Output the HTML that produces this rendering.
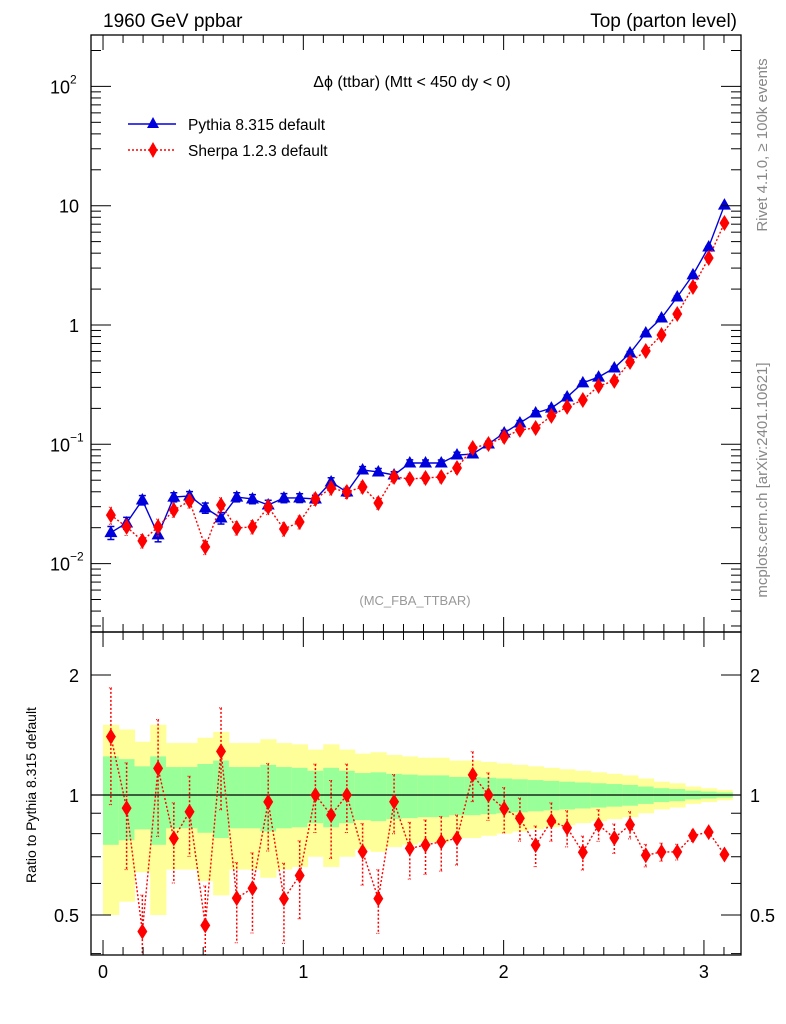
<!DOCTYPE html>
<html><head><meta charset="utf-8">
<style>
html,body{margin:0;padding:0;background:#fff;}
svg{display:block;font-family:"Liberation Sans","DejaVu Sans",sans-serif;}
</style></head>
<body>
<svg id="chart" width="786" height="1024" viewBox="0 0 786 1024" xmlns="http://www.w3.org/2000/svg">
<text x="103" y="27" font-size="19">1960 GeV ppbar</text>
<text x="737" y="27" font-size="19" text-anchor="end">Top (parton level)</text>
<text x="412" y="87" font-size="16" text-anchor="middle">Δϕ (ttbar) (Mtt &lt; 450 dy &lt; 0)</text>
<text x="415" y="605" font-size="13" fill="#999" text-anchor="middle">(MC_FBA_TTBAR)</text>
<text transform="translate(767,145) rotate(-90)" font-size="15" fill="#888" text-anchor="middle">Rivet 4.1.0, ≥ 100k events</text>
<text transform="translate(767,480) rotate(-90)" font-size="15" fill="#888" text-anchor="middle">mcplots.cern.ch [arXiv:2401.10621]</text>
<text transform="translate(36,795) rotate(-90)" font-size="14" text-anchor="middle">Ratio to Pythia 8.315 default</text>
<g id="legend">
 <g>
  <line x1="128" y1="124" x2="176" y2="124" stroke="#0000dd" stroke-width="1.5"/>
  <polygon points="153,117 159,128 147,128" fill="#0000dd"/>
  <text x="188" y="130" font-size="15.5">Pythia 8.315 default</text>
 </g>
 <g>
  <line x1="128" y1="150" x2="176" y2="150" stroke="#ff0000" stroke-width="1.5" stroke-dasharray="2,2"/>
  <polygon points="153,142 157.5,150 153,158 148.5,150" fill="#ff0000"/>
  <text x="188" y="156" font-size="15.5">Sherpa 1.2.3 default</text>
 </g>
</g>
<g id="plots"></g>
</svg>
<script>
const pythiaVals=[0.0182,0.0219,0.0341,0.0174,0.0361,0.0369,0.0293,0.0241,0.0361,0.0348,0.0310,0.0355,0.0355,0.0348,0.0483,0.0398,0.0609,0.0586,0.0553,0.0697,0.0697,0.0697,0.0813,0.0829,0.1007,0.1245,0.151,0.183,0.201,0.249,0.327,0.366,0.436,0.582,0.857,1.145,1.717,2.63,4.51,10.1];
const sherpaVals=[0.0255,0.0203,0.0155,0.0203,0.0281,0.0335,0.0138,0.0310,0.0199,0.0203,0.0298,0.0195,0.0223,0.0348,0.0430,0.0398,0.0439,0.0322,0.0532,0.0512,0.0522,0.0532,0.0633,0.0931,0.1007,0.115,0.132,0.137,0.173,0.206,0.235,0.308,0.340,0.490,0.605,0.824,1.236,2.08,3.64,7.16];
const relErr=[0.25,0.23,0.18,0.25,0.175,0.175,0.196,0.22,0.175,0.175,0.19,0.175,0.17,0.15,0.17,0.15,0.135,0.14,0.13,0.125,0.12,0.12,0.11,0.11,0.105,0.10,0.095,0.09,0.085,0.08,0.075,0.07,0.065,0.06,0.05,0.04,0.035,0.025,0.02,0.015];
const mainTicks=[{v:0.01,l:"10",e:"−2"},{v:0.1,l:"10",e:"−1"},{v:1,l:"1",e:""},{v:10,l:"10",e:""},{v:100,l:"10",e:"2"}];
const ratioTicks=[0.5,1,2];
const xTicks=[0,1,2,3];

const NS="http://www.w3.org/2000/svg";
const g=document.getElementById('plots');
const L=91,R=741,T=35,MB=632,RB=955;
const X0=-0.06,X1=3.185;
const xs=v=>L+(v-X0)/(X1-X0)*(R-L);
const ys=v=>325-Math.log10(v)*119.3;
const yr=v=>795-Math.log10(v)*398.6;
const nb=pythiaVals.length, bw=Math.PI/nb;
function el(tag,attrs,parent){const e=document.createElementNS(NS,tag);for(const k in attrs)e.setAttribute(k,attrs[k]);(parent||g).appendChild(e);return e;}
const clipM=el('clipPath',{id:'cm'});el('rect',{x:L,y:T,width:R-L,height:MB-T},clipM);
const clipR=el('clipPath',{id:'cr'});el('rect',{x:L,y:MB,width:R-L,height:RB-MB},clipR);

const bands=el('g',{'clip-path':'url(#cr)'});


for(let i=0;i<nb;i++){
 const x0=xs(i*bw),x1=xs((i+1)*bw),e=relErr[i];
 const yb=el('rect',{x:x0,y:yr(1+2*e),width:x1-x0+0.5,height:yr(Math.max(1-2*e,0.05))-yr(1+2*e),fill:'#ffff99'},bands);
 
 
 const gb=el('rect',{x:x0,y:yr(1+e),width:x1-x0+0.5,height:yr(1-e)-yr(1+e),fill:'#99ff99'},bands);
 
 
}
el('line',{x1:L,x2:R,y1:yr(1),y2:yr(1),stroke:'#000','stroke-width':1.2});

function series(vals,errs,color,dash,marker,yf,clip,name){
 const grp=el('g',{'clip-path':clip});
 
 
 let d='';
 vals.forEach((v,i)=>{d+=(i?'L':'M')+xs((i+0.5)*bw)+','+yf(v);});
 el('path',{d:d,fill:'none',stroke:color,'stroke-width':1.4,'stroke-dasharray':dash},grp);
 vals.forEach((v,i)=>{
  const x=xs((i+0.5)*bw),y=yf(v),e=v*errs[i];
  const top=yf(v+e),bot=yf(Math.max(v-e,1e-4));
  el('line',{x1:x,x2:x,y1:top,y2:bot,stroke:color,'stroke-width':1.5,'stroke-dasharray':dash},grp);
  if(!dash){el('line',{x1:x-3.5,x2:x+3.5,y1:top,y2:top,stroke:color,'stroke-width':1.5},grp);el('line',{x1:x-3.5,x2:x+3.5,y1:bot,y2:bot,stroke:color,'stroke-width':1.5},grp);}
  else{el('line',{x1:x-2,x2:x+2,y1:top,y2:top,stroke:color,'stroke-width':1,'stroke-dasharray':'1,1'},grp);el('line',{x1:x-2,x2:x+2,y1:bot,y2:bot,stroke:color,'stroke-width':1,'stroke-dasharray':'1,1'},grp);}
  let m;
  if(marker==='tri') m=el('polygon',{points:`${x},${y-7} ${x+6.5},${y+4.5} ${x-6.5},${y+4.5}`,fill:color},grp);
  else m=el('polygon',{points:`${x},${y-8} ${x+5},${y} ${x},${y+8} ${x-5},${y}`,fill:color},grp);
  
  
 });
}
series(pythiaVals,relErr.map(e=>e*0.5),'#0000dd','','tri',ys,'url(#cm)','pythia-series');
series(sherpaVals,relErr.map(e=>e*0.45+0.05),'#ff0000','2,2','dia',ys,'url(#cm)','sherpa-series');
const ratioVals=sherpaVals.map((v,i)=>v/pythiaVals[i]);
series(ratioVals,relErr.map(e=>e*1.3),'#ff0000','2,2','dia',yr,'url(#cr)','sherpa-ratio-series');

const f1=el('rect',{x:L,y:T,width:R-L,height:MB-T,fill:'none',stroke:'#000','stroke-width':1.3});

const f2=el('rect',{x:L,y:MB,width:R-L,height:RB-MB,fill:'none',stroke:'#000','stroke-width':1.3});


for(let k=0;k<=31;k++){
 const v=k/10,x=xs(v),maj=(k%10===0),len=maj?15:8;
 [[T,1],[MB,-1],[MB,1],[RB,-1]].forEach(([y,s])=>el('line',{x1:x,x2:x,y1:y,y2:y+s*len,stroke:'#000','stroke-width':1}));
}
xTicks.forEach(v=>{const t=el('text',{x:xs(v),y:978,'font-size':18,'text-anchor':'middle'});t.textContent=v;
 });
for(let d=-3;d<=2;d++){for(let m=1;m<=9;m++){const v=m*Math.pow(10,d),y=ys(v);if(y<T||y>MB)continue;const len=m===1?20:10;
 el('line',{x1:L,x2:L+len,y1:y,y2:y,stroke:'#000','stroke-width':1});el('line',{x1:R,x2:R-len,y1:y,y2:y,stroke:'#000','stroke-width':1});}}
mainTicks.forEach(t=>{const tx=el('text',{x:t.e?70:79,y:ys(t.v)+7,'font-size':18,'text-anchor':'end'});tx.textContent=t.l;
 
 if(t.e){const s=el('text',{x:70,y:ys(t.v)-3,'font-size':12});s.textContent=t.e;}});
[0.4,0.5,0.6,0.7,0.8,0.9,1,2].forEach(v=>{const y=yr(v),maj=(v===0.5||v===1||v===2),len=maj?20:10;
 el('line',{x1:L,x2:L+len,y1:y,y2:y,stroke:'#000','stroke-width':1});el('line',{x1:R,x2:R-len,y1:y,y2:y,stroke:'#000','stroke-width':1});});
ratioTicks.forEach(v=>{
 const a=el('text',{x:79,y:yr(v)+7,'font-size':18,'text-anchor':'end'});a.textContent=v;
 
 const b=el('text',{x:750,y:yr(v)+7,'font-size':18});b.textContent=v;
 });
</script>
</body></html>
